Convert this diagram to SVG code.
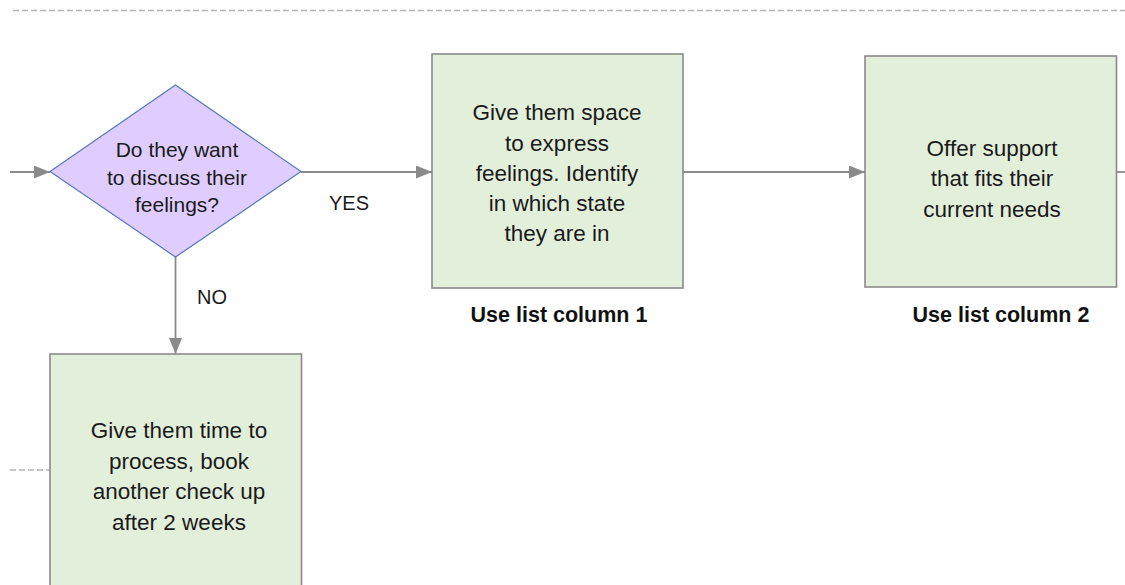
<svg xmlns="http://www.w3.org/2000/svg" width="1125" height="585" viewBox="0 0 1125 585">
  <style>
    .box { fill: #e2efda; stroke: #8a8a8a; stroke-width: 1.6; }
    .decision { fill: #dfcdff; stroke: #5877b8; stroke-width: 1.2; }
    .t { font-family: "Liberation Sans", Arial, sans-serif; font-size: 22.5px; fill: #1a1a1a; text-anchor: middle; }
    .td { font-family: "Liberation Sans", Arial, sans-serif; font-size: 21px; fill: #1a1a1a; text-anchor: middle; }
    .lbl { font-family: "Liberation Sans", Arial, sans-serif; font-size: 20px; fill: #1a1a1a; text-anchor: middle; }
    .cap { font-family: "Liberation Sans", Arial, sans-serif; font-size: 21.5px; font-weight: bold; fill: #121212; text-anchor: middle; }
    .flow { stroke: #8a8a8a; stroke-width: 1.8; fill: none; }
    .dash { stroke: #b4b4b4; stroke-width: 1.6; stroke-dasharray: 6 3; fill: none; }
  </style>
  <defs>
    <marker id="arrow" markerUnits="userSpaceOnUse" markerWidth="16" markerHeight="13" refX="16" refY="6.5" orient="auto">
      <path d="M0,0 L16,6.5 L0,13 Z" fill="#8a8a8a"/>
    </marker>
  </defs>

  <rect width="1125" height="585" fill="#ffffff"/>

  <!-- section separators -->
  <g id="separators">
    <line class="dash" x1="13" y1="10.5" x2="1125" y2="10.5"/>
    <line class="dash" x1="10" y1="470" x2="50" y2="470" stroke-dasharray="4 3"/>
  </g>

  <!-- connectors -->
  <g id="connectors">
    <line class="flow" x1="10" y1="172" x2="50" y2="172" marker-end="url(#arrow)"/>
    <line class="flow" x1="301" y1="172" x2="432" y2="172" marker-end="url(#arrow)"/>
    <line class="flow" x1="683" y1="172" x2="865" y2="172" marker-end="url(#arrow)"/>
    <line class="flow" x1="1117" y1="172" x2="1125" y2="172"/>
    <line class="flow" x1="175.5" y1="257" x2="175.5" y2="354" marker-end="url(#arrow)"/>
    <text class="lbl" x="349" y="210">YES</text>
    <text class="lbl" x="212" y="304">NO</text>
  </g>

  <!-- decision -->
  <g id="decision">
    <polygon class="decision" points="175.5,85 301,171.5 175.5,257 50,171.5"/>
    <text class="td" x="177" y="157">Do they want</text>
    <text class="td" x="177" y="184.5">to discuss their</text>
    <text class="td" x="177" y="212">feelings?</text>
  </g>

  <!-- express feelings -->
  <g id="express">
    <rect class="box" x="432" y="54" width="251" height="234"/>
    <text class="t" x="557" y="120">Give them space</text>
    <text class="t" x="557" y="150.5">to express</text>
    <text class="t" x="557" y="180.5">feelings. Identify</text>
    <text class="t" x="557" y="210.5">in which state</text>
    <text class="t" x="557" y="241">they are in</text>
    <text class="cap" x="559" y="322">Use list column 1</text>
  </g>

  <!-- offer support -->
  <g id="support">
    <rect class="box" x="865" y="56" width="251.5" height="231"/>
    <text class="t" x="992" y="155.5">Offer support</text>
    <text class="t" x="992" y="186">that fits their</text>
    <text class="t" x="992" y="216.5">current needs</text>
    <text class="cap" x="1001" y="322">Use list column 2</text>
  </g>

  <!-- time to process -->
  <g id="process">
    <rect class="box" x="50" y="354" width="251.5" height="250"/>
    <text class="t" x="179" y="437.5">Give them time to</text>
    <text class="t" x="179" y="468.5">process, book</text>
    <text class="t" x="179" y="499">another check up</text>
    <text class="t" x="179" y="530">after 2 weeks</text>
  </g>
</svg>
